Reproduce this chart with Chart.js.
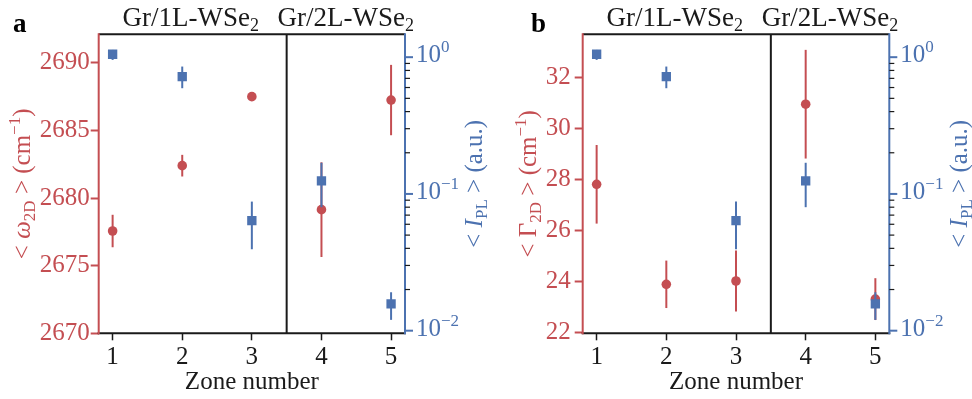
<!DOCTYPE html>
<html><head><meta charset="utf-8">
<script src="https://cdn.jsdelivr.net/npm/chart.js@4.4.0/dist/chart.umd.min.js"></script>
<style>
html,body{margin:0;padding:0;background:#fff;}
#wrap{position:relative;width:972px;height:399px;overflow:hidden;background:#fff;}
#ca{position:absolute;left:0;top:0;width:500px;height:399px;}
#cb{position:absolute;left:486px;top:0;width:486px;height:399px;}
</style></head><body>
<div id="wrap"><canvas id="ca" width="500" height="399"></canvas><canvas id="cb" width="486" height="399"></canvas></div>
<script>
// ---- data ----
const zones = [1, 2, 3, 4, 5];
const omega2D = [2677.56, 2682.39, 2687.49, 2679.14, 2687.24];
const omega2DErr = [1.2, 0.8, 0.25, 3.5, 2.6];
const gamma2D = [27.82, 23.90, 24.03, 30.96, 23.32];
const gamma2DErr = [1.54, 0.93, 1.2, 2.13, 0.82];
const iPL = [1.05, 0.72, 0.0638, 0.1245, 0.0157];
const iPLLow = [0.955, 0.593, 0.0394, 0.080, 0.0120];
const iPLHigh = [1.13, 0.854, 0.0879, 0.169, 0.0191];
const regionTitles = ['Gr/1L-WSe', 'Gr/2L-WSe'];
const logMajorTicks = [0.01, 0.1, 1];
const logMajorExp = ['\u22122', '\u22121', '0'];

const RED = '#c44e52', BLUE = '#4c72b0', INK = '#1a1a1a';
const FONT = '"Liberation Serif","Times New Roman",serif';
const f = (s, st) => (st ? st + ' ' : '') + s + 'px ' + FONT;

function richWidth(ctx, parts) { let w = 0; for (const p of parts) { ctx.font = p.f; w += ctx.measureText(p.t).width; } return w; }
function drawRich(ctx, parts, x, y, rot, align) {
  ctx.save(); ctx.translate(x, y); ctx.rotate(rot || 0);
  const w = richWidth(ctx, parts);
  let cx = align === 'left' ? 0 : (align === 'right' ? -w : -w / 2);
  ctx.textBaseline = 'alphabetic'; ctx.textAlign = 'left';
  for (const p of parts) { ctx.font = p.f; ctx.fillStyle = p.c; ctx.fillText(p.t, cx, p.dy || 0); cx += ctx.measureText(p.t).width; }
  ctx.restore();
}
function line(ctx, x1, y1, x2, y2, c, w) { ctx.beginPath(); ctx.moveTo(x1, y1); ctx.lineTo(x2, y2); ctx.strokeStyle = c; ctx.lineWidth = w; ctx.stroke(); }

function makePanel(canvas, P) {
  const errPlugin = {
    id: 'err',
    beforeDatasetDraw(chart, args) {
      const ds = chart.data.datasets[args.index];
      const ctx = chart.ctx, xs = chart.scales.x, ys = chart.scales[ds.yAxisID];
      ctx.save();
      ds.data.forEach((d, i) => {
        const px = xs.getPixelForValue(d.x);
        line(ctx, px, ys.getPixelForValue(ds.errLo[i]), px, ys.getPixelForValue(ds.errHi[i]), ds.backgroundColor, 2);
      });
      ctx.restore();
    },
    beforeDatasetsDraw(chart) {
      const ctx = chart.ctx, xs = chart.scales.x, a = chart.chartArea;
      const px = xs.getPixelForValue(3.5);
      line(ctx, px, a.top, px, a.bottom, INK, 2);
    },
    afterDraw(chart) {
      const ctx = chart.ctx, a = chart.chartArea, xs = chart.scales.x, yr = chart.scales.yR;
      ctx.save();
      // spines
      line(ctx, a.left, a.top, a.right, a.top, INK, 2);
      line(ctx, a.left - 1, a.bottom, a.right + 1, a.bottom, INK, 2);
      line(ctx, a.left, a.top - 1, a.left, a.bottom + 1, RED, 2);
      line(ctx, a.right, a.top - 1, a.right, a.bottom + 1, BLUE, 2);
      // right log ticks
      for (let e = -3; e <= 0; e++) {
        for (let m = 2; m <= 9; m++) {
          const v = m * Math.pow(10, e);
          if (v < yr.min || v > yr.max) continue;
          const py = yr.getPixelForValue(v);
          line(ctx, a.right, py, a.right + 5, py, INK, 1.2);
        }
      }
      logMajorTicks.forEach((v, i) => {
        const py = yr.getPixelForValue(v);
        line(ctx, a.right, py, a.right + 8, py, BLUE, 2);
        drawRich(ctx, [{ t: '10', f: f(25), c: BLUE }, { t: logMajorExp[i], f: f(17), c: BLUE, dy: -10 }], a.right + 11, py + 5, 0, 'left');
      });
      // region titles
      const x0 = xs.getPixelForValue(xs.min), x1 = xs.getPixelForValue(3.5), x2 = xs.getPixelForValue(xs.max);
      drawRich(ctx, [{ t: regionTitles[0], f: f(27), c: INK }, { t: '2', f: f(18), c: INK, dy: 5 }], (x0 + x1) / 2 - 2, 26, 0, 'center');
      drawRich(ctx, [{ t: regionTitles[1], f: f(27), c: INK }, { t: '2', f: f(18), c: INK, dy: 5 }], (x1 + x2) / 2, 26, 0, 'center');
      // panel letter
      drawRich(ctx, [{ t: P.letter, f: f(27, 'bold'), c: '#000' }], P.letterX, 32, 0, 'left');
      // x title
      drawRich(ctx, [{ t: 'Zone number', f: f(25), c: INK }], (a.left + a.right) / 2, 389, 0, 'center');
      // y titles
      drawRich(ctx, P.leftTitle, P.leftTitleX, (a.top + a.bottom) / 2, -Math.PI / 2, 'center');
      drawRich(ctx, [
        { t: '< ', f: f(25), c: BLUE }, { t: 'I', f: f(25, 'italic'), c: BLUE }, { t: 'PL', f: f(17), c: BLUE, dy: 5 },
        { t: ' > (a.u.)', f: f(25), c: BLUE }], P.rightTitleX, (a.top + a.bottom) / 2, -Math.PI / 2, 'center');
      ctx.restore();
    }
  };

  return new Chart(canvas, {
    type: 'scatter',
    data: {
      datasets: [
        {
          label: 'IPL', yAxisID: 'yR', order: 1,
          data: zones.map((z, i) => ({ x: z, y: iPL[i] })),
          errLo: iPLLow, errHi: iPLHigh,
          pointStyle: 'rect', pointRadius: 6.6, pointHoverRadius: 6.6, backgroundColor: BLUE, borderWidth: 0
        },
        {
          label: 'left', yAxisID: 'yL', order: 2,
          data: zones.map((z, i) => ({ x: z, y: P.vals[i] })),
          errLo: P.vals.map((v, i) => v - P.errs[i]), errHi: P.vals.map((v, i) => v + P.errs[i]),
          pointStyle: 'circle', pointRadius: 4.8, pointHoverRadius: 4.8, backgroundColor: RED, borderWidth: 0
        }
      ]
    },
    options: {
      responsive: false, animation: false, devicePixelRatio: 1,
      layout: { padding: { top: 34.3, left: 0, right: 0, bottom: 0 } },
      plugins: { legend: { display: false }, tooltip: { enabled: false } },
      events: [],
      scales: {
        x: {
          type: 'linear', position: 'bottom', min: 0.8, max: 5.2,
          afterFit: s => { s.height = 399 - 333.3; },
          border: { display: false },
          grid: { display: true, drawOnChartArea: false, drawTicks: true, tickLength: 7, tickWidth: 1.5, tickColor: INK, color: INK },
          ticks: { stepSize: 1, includeBounds: false, color: INK, font: { family: FONT, size: 25 }, padding: 2, maxRotation: 0, callback: v => String(v) }
        },
        yL: {
          type: 'linear', position: 'left', min: P.min, max: P.max,
          afterFit: s => { s.width = P.leftWidth; },
          border: { display: false },
          grid: { display: true, drawOnChartArea: false, drawTicks: true, tickLength: 8, tickWidth: 2, tickColor: RED, color: RED },
          ticks: { stepSize: P.step, includeBounds: false, color: RED, font: { family: FONT, size: 25 }, padding: P.tickPad, callback: v => String(v) }
        },
        yR: {
          type: 'logarithmic', position: 'right', min: 0.00957, max: 1.47,
          afterFit: s => { s.width = P.rightWidth; },
          border: { display: false },
          grid: { display: false },
          ticks: { display: false }
        }
      }
    },
    plugins: [errPlugin]
  });
}

makePanel(document.getElementById('ca'), {
  vals: omega2D, errs: omega2DErr, min: 2670, max: 2692.1, step: 5,
  leftWidth: 98.7, rightWidth: 500 - 405, tickPad: 1, letter: 'a', letterX: 13,
  leftTitleX: 30, rightTitleX: 482,
  leftTitle: [
    { t: '< ', f: f(25), c: RED }, { t: '\u03C9', f: f(25, 'italic'), c: RED }, { t: '2D', f: f(17), c: RED, dy: 5 },
    { t: ' > (cm', f: f(25), c: RED }, { t: '\u22121', f: f(17), c: RED, dy: -10 }, { t: ')', f: f(25), c: RED }]
});
makePanel(document.getElementById('cb'), {
  vals: gamma2D, errs: gamma2DErr, min: 21.98, max: 33.7, step: 2,
  leftWidth: 96.7, rightWidth: 486 - 403.3, tickPad: 4, letter: 'b', letterX: 45,
  leftTitleX: 50, rightTitleX: 481,
  leftTitle: [
    { t: '< ', f: f(25), c: RED }, { t: '\u0393', f: f(25), c: RED }, { t: '2D', f: f(17), c: RED, dy: 5 },
    { t: ' > (cm', f: f(25), c: RED }, { t: '\u22121', f: f(17), c: RED, dy: -10 }, { t: ')', f: f(25), c: RED }]
});
</script>
</body></html>
